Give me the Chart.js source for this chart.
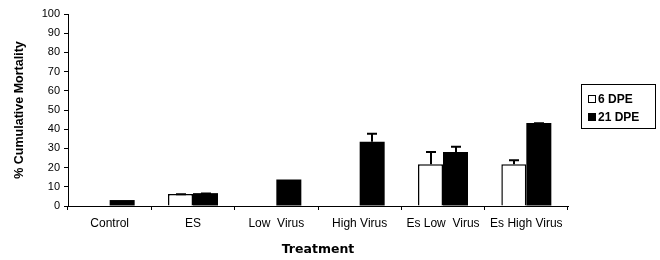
<!DOCTYPE html>
<html>
<head>
<meta charset="utf-8">
<script src="https://cdn.jsdelivr.net/npm/chart.js@4/dist/chart.umd.min.js"></script>
<style>
  html, body { margin: 0; padding: 0; background: #fff; }
  #wrap { width: 660px; height: 260px; position: relative; }
</style>
</head>
<body>
<div id="wrap"><canvas id="c" width="660" height="260"></canvas></div>
<script>
const categories = ["Control", "ES", "Low  Virus", "High Virus", "Es Low  Virus", "Es High Virus"];
const seriesLabels = ["6 DPE", "21 DPE"];
const dpe6 = [null, 6.3, null, null, 21.7, 21.7];
const dpe6Err = [0, 0.3, 0, 0, 6.9, 2.6];
const dpe21 = [3.1, 6.7, 13.8, 33.4, 28.1, 43.2];
const dpe21Err = [0, 0.3, 0, 4.8, 3.3, 0.4];
const yTicks = [0, 10, 20, 30, 40, 50, 60, 70, 80, 90, 100];
const yTitle = "% Cumulative Mortality";
const xTitle = "Treatment";

const errors = [dpe6Err, dpe21Err];

const errorBarPlugin = {
  id: 'errorBars',
  afterDatasetsDraw(chart) {
    const ctx = chart.ctx;
    const yScale = chart.scales.y;
    ctx.save();
    ctx.strokeStyle = '#000';
    ctx.lineWidth = 2;
    chart.data.datasets.forEach((ds, di) => {
      const meta = chart.getDatasetMeta(di);
      meta.data.forEach((bar, i) => {
        const v = ds.data[i];
        const e = errors[di][i];
        if (v == null || !e) return;
        const x = Math.round(bar.x);
        const yTop = yScale.getPixelForValue(v + e);
        const yVal = yScale.getPixelForValue(v);
        ctx.beginPath();
        ctx.moveTo(x, yVal);
        ctx.lineTo(x, yTop);
        ctx.moveTo(x - 5, yTop + 1);
        ctx.lineTo(x + 5, yTop + 1);
        ctx.stroke();
      });
    });
    ctx.restore();
  }
};

const legendPlugin = {
  id: 'boxLegend',
  afterDraw(chart) {
    const ctx = chart.ctx;
    ctx.save();
    ctx.strokeStyle = '#000';
    ctx.lineWidth = 1;
    ctx.strokeRect(581.5, 84.5, 74, 44);
    ctx.font = 'bold 12px "Liberation Sans", Arial, sans-serif';
    ctx.textBaseline = 'middle';
    ctx.fillStyle = '#000';
    const rows = [99, 117];
    chart.data.datasets.forEach((ds, i) => {
      const y = rows[i];
      if (i === 0) {
        ctx.fillStyle = '#fff';
        ctx.fillRect(588, y - 4, 7, 7);
        ctx.strokeRect(588.5, y - 3.5, 7, 7);
      } else {
        ctx.fillStyle = '#000';
        ctx.fillRect(588, y - 4, 8, 8);
      }
      ctx.fillStyle = '#000';
      ctx.textAlign = 'left';
      ctx.fillText(ds.label, 598, y + 1);
    });
    ctx.restore();
  }
};

new Chart(document.getElementById('c'), {
  type: 'bar',
  data: {
    labels: categories,
    datasets: [
      { label: seriesLabels[0], data: dpe6, backgroundColor: '#fff', borderColor: '#000', borderWidth: 1.5 },
      { label: seriesLabels[1], data: dpe21, backgroundColor: '#000', borderColor: '#000', borderWidth: 0 }
    ]
  },
  options: {
    responsive: false,
    animation: false,
    events: [],
    layout: { padding: { left: 0, right: 92, top: 14, bottom: 0 } },
    datasets: { bar: { categoryPercentage: 0.6, barPercentage: 1.0 } },
    plugins: { legend: { display: false }, tooltip: { enabled: false } },
    scales: {
      x: {
        grid: { offset: true, drawOnChartArea: false, drawTicks: true, tickLength: 4, color: '#000', lineWidth: 1 },
        border: { color: '#000', width: 1 },
        ticks: { color: '#000', font: { family: '"Liberation Sans", Arial, sans-serif', size: 12 }, padding: 6, maxRotation: 0, autoSkip: false },
        title: { display: true, text: xTitle, color: '#000', font: { family: '"DejaVu Sans", sans-serif', size: 12.5, weight: 'bold' }, padding: { top: 3, bottom: 3 } },
        afterFit(scale) { scale.height = 54; }
      },
      y: {
        min: 0, max: 100,
        afterBuildTicks(scale) { scale.ticks = yTicks.map(v => ({ value: v })); },
        grid: { drawOnChartArea: false, drawTicks: true, tickLength: 4, color: '#000', lineWidth: 1 },
        border: { color: '#000', width: 1 },
        ticks: { color: '#000', font: { family: '"Liberation Sans", Arial, sans-serif', size: 11 }, padding: 4 },
        title: { display: true, text: yTitle, color: '#000', font: { family: '"Liberation Sans", Arial, sans-serif', size: 12.5, weight: 'bold' }, padding: { top: 12, bottom: 12 } },
        afterFit(scale) { scale.width = 68; }
      }
    }
  },
  plugins: [errorBarPlugin, legendPlugin]
});
</script>
</body>
</html>
